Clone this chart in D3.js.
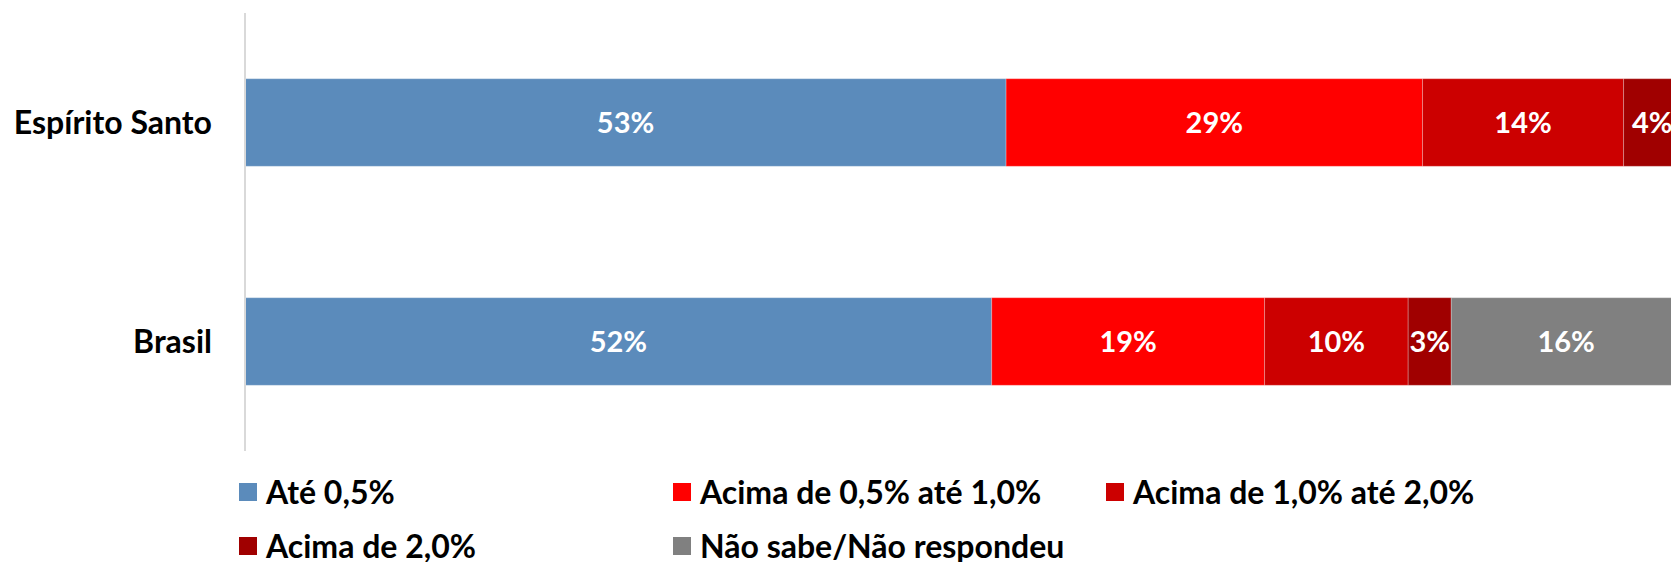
<!DOCTYPE html>
<html>
<head>
<meta charset="utf-8">
<script src="https://cdn.jsdelivr.net/npm/d3@7"></script>
<style>
  html, body { margin: 0; padding: 0; background: #fff; overflow: hidden; }
  text { font-family: Lato, "Open Sans", sans-serif; font-weight: bold; }
</style>
</head>
<body>
<div id="chart"></div>
<script>
// data
var regions   = ["Espírito Santo", "Brasil"];
var series    = ["Até 0,5%", "Acima de 0,5% até 1,0%", "Acima de 1,0% até 2,0%", "Acima de 2,0%", "Não sabe/Não respondeu"];
var esValues  = [53, 29, 14, 4, 0];
var brValues  = [52, 19, 10, 3, 16];
var colors    = ["#5b8bbb", "#ff0000", "#cc0000", "#a00000", "#808080"];

var chart_width  = 1671;
var chart_height = 562;

var rows = regions.map(function(r, i){
  var v = i === 0 ? esValues : brValues;
  var o = {region: r};
  series.forEach(function(s, j){ o[s] = v[j]; });
  return o;
});

var svg = d3.select("#chart")
  .append("svg")
  .attr("width", chart_width)
  .attr("height", chart_height);

// scales - chart runs past the right edge like the original
var x = d3.scaleLinear().domain([0, 100]).range([245, 1681]);
var y = d3.scaleBand().domain(regions).range([13, 451])
  .paddingInner(0.6).paddingOuter(0.3);
var color = d3.scaleOrdinal().domain(series).range(colors);

var stacked = d3.stack().keys(series)(rows);

var groups = svg.selectAll("g.layer")
  .data(stacked)
  .enter()
  .append("g")
  .attr("class", "layer")
  .attr("fill", function(d){ return color(d.key); });

groups.selectAll("rect")
  .data(function(d){ return d.filter(function(p){ return p[1] - p[0] > 0; }); })
  .enter()
  .append("rect")
  .attr("x", function(d){ return x(d[0]); })
  .attr("y", function(d){ return y(d.data.region); })
  .attr("width", function(d){ return x(d[1]) - x(d[0]); })
  .attr("height", y.bandwidth())
  .attr("stroke", "rgba(255,255,255,0.25)")
  .attr("stroke-width", 1);

// value labels
groups.selectAll("text")
  .data(function(d){ return d.filter(function(p){ return p[1] - p[0] > 0; }); })
  .enter()
  .append("text")
  .attr("x", function(d){ return (x(d[0]) + x(d[1])) / 2; })
  .attr("y", function(d){ return y(d.data.region) + y.bandwidth() / 2; })
  .attr("dy", "0.36em")
  .attr("text-anchor", "middle")
  .attr("fill", "#fff")
  .style("font-size", "29px")
  .text(function(d){ return (d[1] - d[0]) + "%"; });

// vertical axis line
svg.append("line")
  .attr("x1", 245).attr("x2", 245)
  .attr("y1", 13).attr("y2", 451)
  .attr("stroke", "#d9d9d9")
  .attr("stroke-width", 2);

// category labels
svg.selectAll("text.cat")
  .data(regions)
  .enter()
  .append("text")
  .attr("class", "cat")
  .attr("x", 212)
  .attr("y", function(d){ return y(d) + y.bandwidth() / 2; })
  .attr("dy", "0.36em")
  .attr("text-anchor", "end")
  .attr("fill", "#000")
  .style("font-size", "32px")
  .text(function(d){ return d; });

// legend
var legX = [239, 673, 1106];
var legY = [492, 546];
var leg = svg.selectAll("g.leg")
  .data(series)
  .enter()
  .append("g")
  .attr("class", "leg")
  .attr("transform", function(d, i){
    return "translate(" + legX[i % 3] + "," + legY[Math.floor(i / 3)] + ")";
  });

leg.append("rect")
  .attr("x", 0).attr("y", -9)
  .attr("width", 18).attr("height", 18)
  .attr("fill", function(d){ return color(d); });

leg.append("text")
  .attr("x", 27)
  .attr("dy", "0.36em")
  .attr("fill", "#000")
  .style("font-size", "32px")
  .text(function(d){ return d; });
</script>
</body>
</html>
